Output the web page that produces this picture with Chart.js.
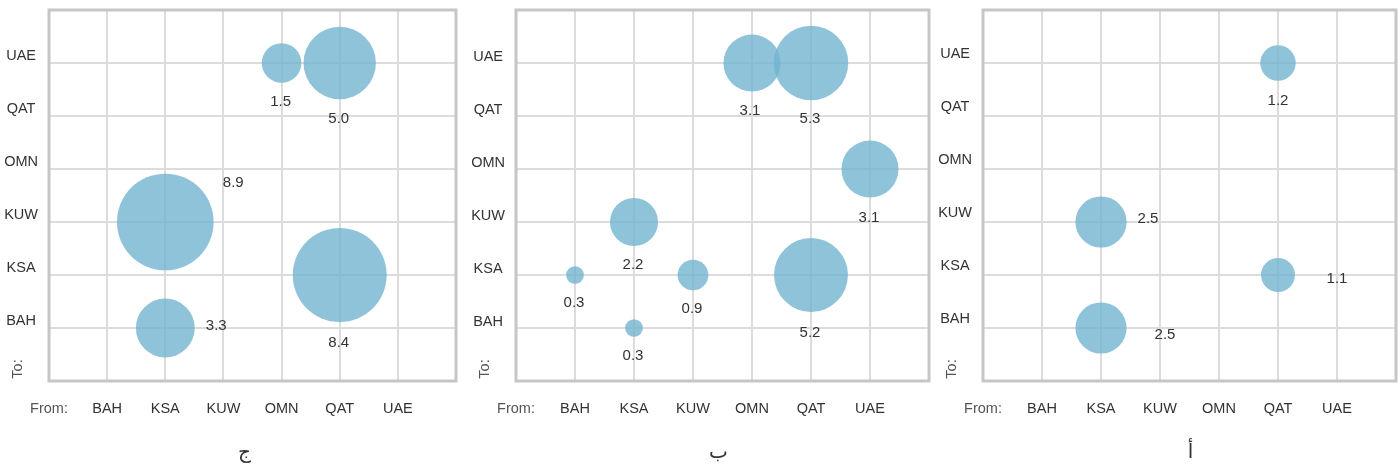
<!DOCTYPE html>
<html>
<head>
<meta charset="utf-8">
<script src="https://cdn.jsdelivr.net/npm/chart.js@4"></script>
<style>
  html, body { margin: 0; padding: 0; background: #ffffff; }
  #wrap { position: relative; width: 1400px; height: 469px; overflow: hidden; }
  canvas { position: absolute; top: 0; }
</style>
</head>
<body>
<div id="wrap">
  <canvas id="c1" width="467" height="469" style="left:0px"></canvas>
  <canvas id="c2" width="467" height="469" style="left:467px"></canvas>
  <canvas id="c3" width="466" height="469" style="left:934px"></canvas>
</div>
<script>
// Country codes used on both axes (position 1..6)
const countries = ['BAH', 'KSA', 'KUW', 'OMN', 'QAT', 'UAE'];
const fromCaption = 'From:';
const toCaption = 'To:';

// Panel "ج"
const jeemFrom   = ['OMN', 'QAT', 'KSA', 'QAT', 'KSA'];
const jeemTo     = ['UAE', 'UAE', 'KUW', 'KSA', 'BAH'];
const jeemValues = [1.5, 5.0, 8.9, 8.4, 3.3];

// Panel "ب"
const baFrom   = ['OMN', 'QAT', 'UAE', 'KSA', 'BAH', 'KUW', 'QAT', 'KSA'];
const baTo     = ['UAE', 'UAE', 'OMN', 'KUW', 'KSA', 'KSA', 'KSA', 'BAH'];
const baValues = [3.1, 5.3, 3.1, 2.2, 0.3, 0.9, 5.2, 0.3];

// Panel "أ"
const alifFrom   = ['QAT', 'KSA', 'QAT', 'KSA'];
const alifTo     = ['UAE', 'KUW', 'KSA', 'BAH'];
const alifValues = [1.2, 2.5, 1.1, 2.5];

// Where each value label sits relative to its bubble centre (px)
const jeemLabelShift = [[-1, 39], [-1, 56], [68, -39], [-1, 68], [51, -2]];
const baLabelShift   = [[-2, 48], [-1, 56], [-1, 49], [-1, 43], [-1, 28], [-1, 34], [-1, 58], [-1, 28]];
const alifLabelShift = [[0, 38], [47, -3], [59, 4], [64, 7]];

const BUBBLE_SCALE = 16.2;         // radius = scale * sqrt(value)
const FONT = '"Liberation Sans", Arial, Helvetica, sans-serif';
const TEXT = '#333333';

const framePlugin = {
  id: 'frame',
  beforeDatasetsDraw(chart) {
    const a = chart.chartArea, ctx = chart.ctx;
    ctx.save();
    ctx.strokeStyle = '#c6c6c6';
    ctx.lineWidth = 3;
    ctx.strokeRect(a.left, a.top, a.right - a.left, a.bottom - a.top);
    ctx.restore();
  },
  afterDatasetsDraw(chart, args, opts) {
    const ctx = chart.ctx, a = chart.chartArea;
    const meta = chart.getDatasetMeta(0);
    ctx.save();
    ctx.fillStyle = TEXT;
    ctx.font = '15px ' + FONT;
    ctx.textAlign = 'center';
    ctx.textBaseline = 'middle';
    meta.data.forEach((el, i) => {
      const v = chart.data.datasets[0].values[i];
      const s = opts.shifts[i];
      ctx.fillText(v.toFixed(1), el.x + s[0], el.y + s[1]);
    });
    // rotated "To:" caption next to the bottom of the y axis
    ctx.save();
    ctx.font = '14.5px ' + FONT;
    ctx.translate(a.left - 31, a.bottom - 12);
    ctx.rotate(-Math.PI / 2);
    ctx.fillStyle = '#555555';
    ctx.fillText(toCaption, 0, 0);
    ctx.restore();
    // panel caption under the chart
    ctx.font = '20px "DejaVu Sans", sans-serif';
    ctx.textBaseline = 'alphabetic';
    ctx.fillText(opts.caption, (a.left + a.right) / 2 + opts.captionShift, 458);
    ctx.restore();
  }
};

function makePanel(id, fromArr, toArr, values, shifts, caption, captionShift, yShift, rightPad) {
  const points = values.map((v, i) => ({
    x: countries.indexOf(fromArr[i]) + 1,
    y: countries.indexOf(toArr[i]) + 1,
    r: BUBBLE_SCALE * Math.sqrt(v)
  }));
  const gridColor = (c) => (c.tick.value === 0 || c.tick.value === 7) ? 'rgba(0,0,0,0)' : '#dcdcdc';
  return new Chart(document.getElementById(id), {
    type: 'bubble',
    data: {
      datasets: [{
        data: points,
        values: values,
        backgroundColor: 'rgba(115,180,209,0.8)',
        borderWidth: 0,
        hoverBorderWidth: 0
      }]
    },
    plugins: [framePlugin],
    options: {
      responsive: false,
      animation: false,
      devicePixelRatio: 1,
      events: [],
      layout: { autoPadding: false, padding: { top: 10, right: rightPad, bottom: 0, left: 0 } },
      plugins: {
        legend: { display: false },
        tooltip: { enabled: false },
        title: { display: false },
        frame: { shifts: shifts, caption: caption, captionShift: captionShift }
      },
      scales: {
        x: {
          type: 'linear',
          min: 0, max: 7,
          afterFit: (s) => { s.height = 88; s.paddingLeft = 0; s.paddingRight = 0; },
          border: { display: false },
          grid: { color: gridColor, lineWidth: 2, drawTicks: false },
          ticks: {
            stepSize: 1,
            autoSkip: false,
            maxRotation: 0,
            padding: 19,
            font: { family: FONT, size: 14.5 },
            color: (c) => c.tick.value === 0 ? '#555555' : TEXT,
            callback: (v) => v === 0 ? fromCaption : (v >= 1 && v <= 6 ? countries[v - 1] : '')
          }
        },
        y: {
          type: 'linear',
          min: 0, max: 7,
          afterFit: (s) => { s.width = 49; s.paddingTop = 0; s.paddingBottom = 0; },
          border: { display: false },
          grid: { color: gridColor, lineWidth: 2, drawTicks: false },
          ticks: {
            stepSize: 1,
            autoSkip: false,
            padding: 11,
            crossAlign: 'center',
            labelOffset: yShift,
            font: { family: FONT, size: 14.5 },
            color: TEXT,
            callback: (v) => (v >= 1 && v <= 6) ? countries[v - 1] : ''
          }
        }
      }
    }
  });
}

makePanel('c1', jeemFrom, jeemTo, jeemValues, jeemLabelShift, 'ج', -8, -7, 11);
makePanel('c2', baFrom, baTo, baValues, baLabelShift, 'ب', -4, -6, 5);
makePanel('c3', alifFrom, alifTo, alifValues, alifLabelShift, 'أ', 1, -9, 4);
</script>
</body>
</html>
